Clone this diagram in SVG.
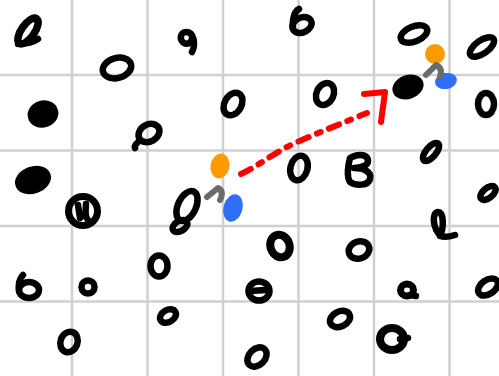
<svg xmlns="http://www.w3.org/2000/svg" width="499" height="376" viewBox="0 0 499 376">
<style>
.grid line{stroke:#d0d0d0;stroke-width:2.5}
.z{fill:none;stroke:#000;stroke-width:6.5;stroke-linecap:round;stroke-linejoin:round}
.f{fill:#000;stroke:#000;stroke-width:5}
.gray{fill:none;stroke:#6b6b6b;stroke-width:6;stroke-linecap:round;stroke-linejoin:round}
.red{fill:none;stroke:#ff0000;stroke-width:6;stroke-linecap:round;stroke-linejoin:round}
.or{fill:#ff9900}
.bl{fill:#2f6ef5}
</style>
<rect width="499" height="376" fill="#fff"/>
<g class="grid">
<line x1="72" y1="0" x2="72" y2="376"/>
<line x1="147.5" y1="0" x2="147.5" y2="376"/>
<line x1="223" y1="0" x2="223" y2="376"/>
<line x1="298.5" y1="0" x2="298.5" y2="376"/>
<line x1="374" y1="0" x2="374" y2="376"/>
<line x1="449.5" y1="0" x2="449.5" y2="376"/>
<line x1="0" y1="75" x2="499" y2="75"/>
<line x1="0" y1="150.5" x2="499" y2="150.5"/>
<line x1="0" y1="226" x2="499" y2="226"/>
<line x1="0" y1="301.5" x2="499" y2="301.5"/>
</g>
<g id="n1"><ellipse class="z" cx="28" cy="31" rx="15" ry="6.5" transform="rotate(-55 28 31)" style="stroke-width:7.5"/><path class="z" d="M18,44 C26,44 34,42 38,39"/></g>
<g id="n2"><ellipse class="z" cx="117" cy="68" rx="14.5" ry="10" transform="rotate(-15 117 68)"/></g>
<g id="n3"><path class="z" d="M192,52 C196,44 194,32 186,32 C180,32 179,40 184,43 C188,45 192,42 192,38"/></g>
<g id="n4"><ellipse class="f" cx="43" cy="114" rx="13" ry="11" transform="rotate(-15 43 114)"/></g>
<g id="n5"><ellipse class="z" cx="149" cy="133" rx="11" ry="8.5" transform="rotate(-30 149 133)"/><path class="z" d="M140,140 C136,144 134,146 135,148"/></g>
<g id="n6"><ellipse class="z" cx="233" cy="104" rx="8.5" ry="12" transform="rotate(30 233 104)"/></g>
<g id="n7"><ellipse class="f" cx="33" cy="180" rx="16" ry="11" transform="rotate(-20 33 180)"/></g>
<g id="n8"><ellipse class="z" cx="302" cy="25" rx="10" ry="7.5" transform="rotate(-25 302 25)"/><path class="z" d="M293,28 C292,18 295,11 299,9"/></g>
<g id="n9"><ellipse class="z" cx="414" cy="34" rx="14" ry="7.5" transform="rotate(-22 414 34)"/></g>
<g id="n10"><ellipse class="z" cx="482" cy="47" rx="14" ry="6.5" transform="rotate(-35 482 47)"/></g>
<g id="n11"><ellipse class="z" cx="325" cy="94" rx="8.5" ry="11.5" transform="rotate(25 325 94)"/></g>
<g id="n12"><ellipse class="z" cx="486" cy="104" rx="8" ry="11"/></g>
<g id="n13"><ellipse class="z" cx="299" cy="168" rx="8.5" ry="12.5" transform="rotate(15 299 168)"/></g>
<g id="n14"><path class="z" d="M352,157 C360,153 368,155 368,161 C368,166 360,168 354,168 C364,168 372,172 370,179 C368,186 356,186 350,182 C346,176 348,166 350,158"/></g>
<g id="n15"><ellipse class="z" cx="431" cy="152" rx="11" ry="5" transform="rotate(-50 431 152)"/></g>
<g id="n16"><ellipse class="z" cx="488" cy="193" rx="9" ry="5" transform="rotate(-40 488 193)"/></g>
<g id="n17"><circle class="z" cx="83" cy="211" r="14.5" style="stroke-width:7"/><path class="z" d="M78,205 L80,218 M86,204 C86,210 84,216 88,220"/></g>
<g id="n18"><ellipse class="z" cx="187" cy="206" rx="9" ry="16" transform="rotate(25 187 206)"/><ellipse class="z" cx="180" cy="226" rx="8" ry="5" transform="rotate(-30 180 226)"/></g>
<g id="n19"><ellipse class="z" cx="29" cy="290" rx="10" ry="8"/><path class="z" d="M19,291 C18,283 20,278 23,275"/></g>
<g id="n20"><ellipse class="z" cx="88" cy="287" rx="6.5" ry="6.5"/></g>
<g id="n21"><ellipse class="z" cx="159" cy="266" rx="8.5" ry="10.5"/></g>
<g id="n22"><ellipse class="z" cx="168" cy="316" rx="8.5" ry="6" transform="rotate(-30 168 316)"/></g>
<g id="n23"><ellipse class="z" cx="69" cy="342" rx="8.5" ry="10.5" transform="rotate(20 69 342)"/></g>
<g id="n24"><ellipse class="z" cx="257" cy="357" rx="8" ry="11" transform="rotate(45 257 357)"/></g>
<g id="n25"><ellipse class="z" cx="259" cy="291" rx="10.5" ry="9.5"/><path class="z" d="M250,291 L266,290"/></g>
<g id="n26"><ellipse class="z" cx="280" cy="246" rx="9.5" ry="11.5" transform="rotate(-20 280 246)" style="stroke-width:8"/></g>
<g id="n27"><ellipse class="z" cx="359" cy="250" rx="10.5" ry="8.5" transform="rotate(-20 359 250)"/></g>
<g id="n28"><path class="z" d="M441,236 C432,228 432,212 438,212 C444,212 444,228 440,236 C446,238 452,236 455,235"/></g>
<g id="n29"><ellipse class="z" cx="407" cy="290" rx="6.5" ry="6" style="stroke-width:7"/><path class="z" d="M410,295 L416,296"/></g>
<g id="n30"><ellipse class="z" cx="488" cy="287" rx="11" ry="7" transform="rotate(-35 488 287)"/></g>
<g id="n31"><ellipse class="z" cx="340" cy="319" rx="10.5" ry="7.5" transform="rotate(-25 340 319)"/></g>
<g id="n32"><ellipse class="z" cx="392" cy="339" rx="12" ry="11" style="stroke-width:8"/><path class="z" d="M400,339 L408,338"/></g>
<g id="target"><ellipse cx="408" cy="87" rx="16" ry="12" transform="rotate(-20 408 87)" fill="#000"/></g>
<g id="orange1"><ellipse class="or" cx="220" cy="166" rx="9.5" ry="12.5" transform="rotate(10 220 166)"/></g>
<g id="blue1"><ellipse class="bl" cx="233" cy="208" rx="9.5" ry="14" transform="rotate(15 233 208)"/></g>
<g id="orange2"><ellipse class="or" cx="435" cy="54" rx="10" ry="10"/></g>
<g id="blue2"><ellipse class="bl" cx="446" cy="81" rx="11" ry="8" transform="rotate(-10 446 81)"/></g>
<g id="connectors">
<path class="gray" d="M207,197 L218,188 C222,190 223,194 220,200"/>
<path class="gray" d="M426,75 L436,65 C441,67 442,71 440,77"/>
<path class="red" d="M241,174 C260,165 275,152 295,143 C320,132 345,122 367,113" stroke-dasharray="11 9 4 9"/>
<path class="red" d="M364,94 L385,92 L381,122"/>
</g>
</svg>
